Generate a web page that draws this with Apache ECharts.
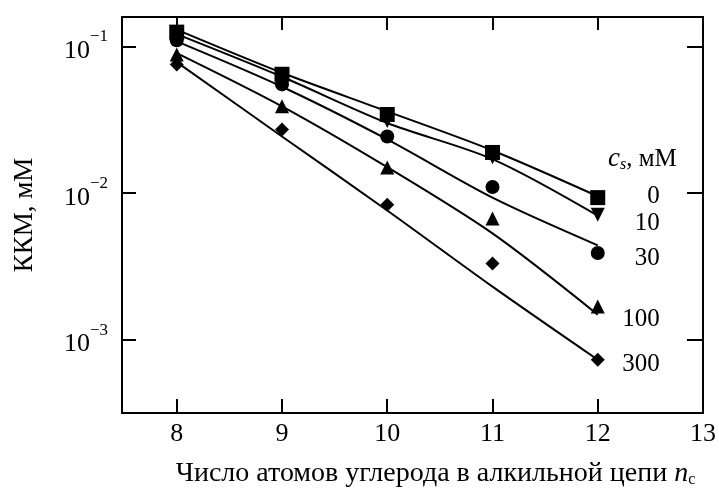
<!DOCTYPE html>
<html><head><meta charset="utf-8">
<script src="https://cdn.jsdelivr.net/npm/echarts@6/dist/echarts.min.js"></script>
<style>html,body{margin:0;padding:0;background:#fff}#c{width:719px;height:490px}</style>
</head><body><div id="c"></div>
<script>
const xCats = [8, 9, 10, 11, 12];
const xTickLabels = [8, 9, 10, 11, 12, 13];
const yTickValues = [0.001, 0.01, 0.1];
const seriesNames = ['0', '10', '30', '100', '300'];
// measured points
const pts0   = [0.125, 0.0645, 0.0343, 0.0189, 0.0093];
const pts10  = [0.118, 0.061, 0.031, 0.0175, 0.0071];
const pts30  = [0.110, 0.055, 0.0243, 0.0110, 0.0039];
const pts100 = [0.088, 0.039, 0.0149, 0.0067, 0.00168];
const pts300 = [0.0753, 0.0271, 0.0083, 0.0033, 0.00073];
// fitted curves
const fit0   = [0.130, 0.066, 0.036, 0.0195, 0.0095];
const fit10  = [0.121, 0.062, 0.030, 0.0170, 0.0070];
const fit30  = [0.108, 0.053, 0.0232, 0.0093, 0.0044];
const fit100 = [0.090, 0.039, 0.0150, 0.0053, 0.00148];
const fit300 = [0.078, 0.0243, 0.0076, 0.0023, 0.00073];

const pts = [pts0, pts10, pts30, pts100, pts300];
const fits = [fit0, fit10, fit30, fit100, fit300];
const symbols = ['rect', 'triangle', 'circle', 'triangle', 'diamond'];
const symRot = [0, 180, 0, 0, 0];
const symSize = [15, 14, 14, 14, 14];
const labelDy = [0, 8, 13, 5, 5];

const serif = 'Liberation Serif';
const series = [];
for (let i = 0; i < 5; i++) {
  series.push({
    name: seriesNames[i] + ' fit', type: 'line', smooth: 0.3, showSymbol: false,
    data: xCats.map((x, j) => [x, fits[i][j]]),
    lineStyle: {color: '#000', width: 2}, z: 2,
    endLabel: {show: true, formatter: seriesNames[i], color: '#000',
      fontFamily: serif, fontSize: 25, align: 'right', offset: [54, labelDy[i]]}
  });
  series.push({
    name: seriesNames[i], type: 'scatter', symbol: symbols[i], symbolRotate: symRot[i],
    symbolSize: symSize[i], data: xCats.map((x, j) => [x, pts[i][j]]),
    itemStyle: {color: '#000', opacity: 1}, z: 3
  });
}
const axisLineStyle = {color: '#000', width: 2};
const chart = echarts.init(document.getElementById('c'));
chart.setOption({
  animation: false,
  backgroundColor: '#fff',
  title: {text: '{c|c}{s|s}{t|, мМ}', left: 603, top: 140,
    textStyle: {fontWeight: 'normal', rich: {
      c: {fontFamily: serif, fontStyle: 'italic', fontWeight: 'normal', fontSize: 27, color: '#000'},
      s: {fontFamily: serif, fontStyle: 'italic', fontWeight: 'normal', fontSize: 16, color: '#000', verticalAlign: 'bottom', padding: [12, 0, 0, 0]},
      t: {fontFamily: serif, fontWeight: 'normal', fontSize: 25, color: '#000'}
    }}},
  grid: {left: 122, right: 16, top: 17, bottom: 77, outerBoundsMode: 'none', containLabel: false},
  xAxis: [{
    type: 'value', min: 7.48, max: 13, position: 'bottom',
    axisLine: {lineStyle: axisLineStyle}, splitLine: {show: false},
    axisTick: {inside: true, length: 14, lineStyle: {color: '#000', width: 2}, customValues: xCats},
    axisLabel: {customValues: xTickLabels, color: '#000', fontFamily: serif, fontSize: 26, margin: 8},
    name: '{a|Число атомов углерода в алкильной цепи }{n|n}{c|c}',
    nameLocation: 'middle', nameGap: 47,
    nameTextStyle: {padding: [0, 0, 0, 46], rich: {
      a: {fontFamily: serif, fontSize: 28, color: '#000'},
      n: {fontFamily: serif, fontSize: 28, fontStyle: 'italic', color: '#000'},
      c: {fontFamily: serif, fontSize: 16, color: '#000', verticalAlign: 'bottom', padding: [12, 0, 0, 0]}
    }}
  }, {
    type: 'value', min: 7.48, max: 13, position: 'top',
    axisLine: {lineStyle: axisLineStyle}, splitLine: {show: false},
    axisTick: {inside: true, length: 13, lineStyle: {color: '#000', width: 2}, customValues: xCats},
    axisLabel: {show: false}
  }],
  yAxis: [{
    type: 'log', logBase: 10, min: Math.pow(10, -3.5), max: Math.pow(10, -0.8), position: 'left',
    axisLine: {show: true, lineStyle: axisLineStyle}, splitLine: {show: false}, minorTick: {show: false},
    axisTick: {inside: true, length: 14, lineStyle: {color: '#000', width: 2}, customValues: yTickValues},
    axisLabel: {customValues: yTickValues, margin: 14,
      formatter: v => '{b|10}{s|−' + Math.round(-Math.log10(v)) + '}',
      rich: {
        b: {fontFamily: serif, fontSize: 26, color: '#000', padding: [10, 0, 0, 0]},
        s: {fontFamily: serif, fontSize: 17, color: '#000', verticalAlign: 'top'}
      }},
    name: 'ККМ, мМ', nameLocation: 'middle', nameGap: 84,
    nameTextStyle: {fontFamily: serif, fontSize: 27, color: '#000'}
  }, {
    type: 'log', logBase: 10, min: Math.pow(10, -3.5), max: Math.pow(10, -0.8), position: 'right',
    axisLine: {show: true, lineStyle: axisLineStyle}, splitLine: {show: false}, minorTick: {show: false},
    axisTick: {inside: true, length: 16, lineStyle: {color: '#000', width: 2}, customValues: yTickValues},
    axisLabel: {show: false}
  }],
  series: series
});
</script></body></html>
